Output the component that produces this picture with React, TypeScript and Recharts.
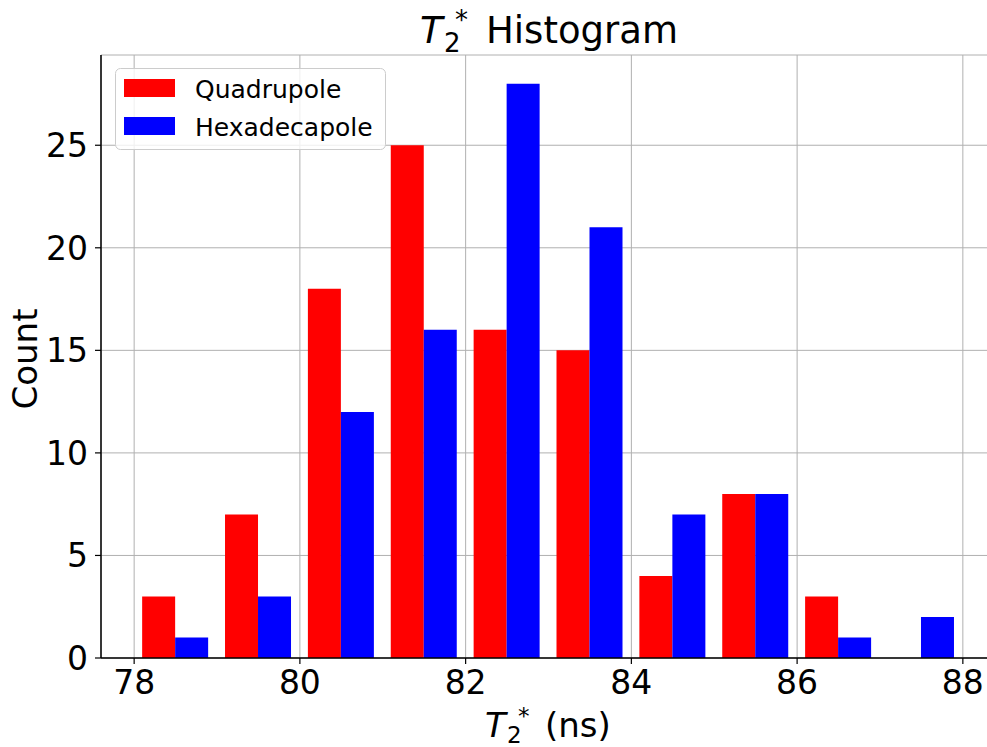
import { Bar, BarChart, CartesianGrid, Legend, XAxis, YAxis } from "recharts";

// histogram bins of width 1 ns from 78 to 88, bars drawn at bin centres
const binCenters = [78.5, 79.5, 80.5, 81.5, 82.5, 83.5, 84.5, 85.5, 86.5, 87.5];
const quadrupole = [3, 7, 18, 25, 16, 15, 4, 8, 3, 0];
const hexadecapole = [1, 3, 12, 16, 28, 21, 7, 8, 1, 2];
const seriesNames = ["Quadrupole", "Hexadecapole"];
const seriesColors = ["#ff0000", "#0000ff"];
const xTicks = [78, 80, 82, 84, 86, 88];
const yTicks = [0, 5, 10, 15, 20, 25];

const data = binCenters.map((x, i) => ({
  x,
  quadrupole: quadrupole[i],
  hexadecapole: hexadecapole[i],
}));

const FONT = "DejaVu Sans";
const tickStyle = { fontSize: 33, fill: "#000", fontFamily: FONT };

const LegendBox = () => (
  <svg width={272} height={83} style={{ display: "block" }}>
    <rect
      x={0.5}
      y={0.5}
      width={270}
      height={81}
      rx={5}
      fill="#fff"
      fillOpacity={0.8}
      stroke="#cccccc"
    />
    {seriesNames.map((name, i) => (
      <g key={name}>
        <rect x={9} y={11 + i * 38} width={51} height={18} fill={seriesColors[i]} />
        <text x={80} y={30 + i * 38} fontSize={25} fontFamily={FONT} fill="#000">
          {name}
        </text>
      </g>
    ))}
  </svg>
);

const App = () => {
  return (
    <div
      style={{
        position: "absolute",
        left: 0,
        top: 0,
        width: 987,
        height: 747,
        overflow: "hidden",
        background: "#fff",
      }}
    >
      <BarChart
        width={1000}
        height={747}
        data={data}
        barSize={33}
        barGap={0}
        margin={{ top: 55, right: 4, bottom: 0, left: 0 }}
      >
        <CartesianGrid stroke="#b0b0b0" strokeWidth={1} />
        <XAxis
          dataKey="x"
          type="number"
          domain={[77.6, 88.4]}
          ticks={xTicks}
          allowDataOverflow
          interval={0}
          height={89}
          tickSize={6}
          tickMargin={7}
          tick={tickStyle}
          axisLine={{ stroke: "#000", strokeWidth: 1.5 }}
          tickLine={{ stroke: "#000", strokeWidth: 1.2 }}
        />
        <XAxis
          xAxisId="top"
          orientation="top"
          type="number"
          domain={[77.6, 88.4]}
          allowDataOverflow
          height={0}
          tick={false}
          tickLine={false}
          axisLine={{ stroke: "#000", strokeWidth: 1.5 }}
        />
        <YAxis
          type="number"
          domain={[0, 29.4]}
          ticks={yTicks}
          allowDataOverflow
          interval={0}
          width={101}
          tickSize={6}
          tickMargin={7}
          tick={tickStyle}
          axisLine={{ stroke: "#000", strokeWidth: 1.5 }}
          tickLine={{ stroke: "#000", strokeWidth: 1.2 }}
        />
        <Legend
          layout="vertical"
          align="center"
          verticalAlign="middle"
          wrapperStyle={{ left: 115, top: 68, width: 272, height: 83 }}
          content={() => <LegendBox />}
        />
        <Bar dataKey="quadrupole" fill={seriesColors[0]} isAnimationActive={false} />
        <Bar dataKey="hexadecapole" fill={seriesColors[1]} isAnimationActive={false} />
      </BarChart>

      <svg
        width={987}
        height={747}
        style={{ position: "absolute", left: 0, top: 0, pointerEvents: "none" }}
      >
        <g fontFamily={FONT} fill="#000">
          <text x={420} y={43} fontSize={37} fontStyle="italic">T</text>
          <text x={444} y={52} fontSize={26}>2</text>
          <text x={455} y={29} fontSize={26}>*</text>
          <text x={486} y={43} fontSize={37}>Histogram</text>

          <text x={485} y={737} fontSize={34} fontStyle="italic">T</text>
          <text x={507} y={743} fontSize={23}>2</text>
          <text x={518} y={724} fontSize={23}>*</text>
          <text x={545} y={737} fontSize={34}>(ns)</text>

          <text
            x={37}
            y={359}
            fontSize={34}
            textAnchor="middle"
            transform="rotate(-90, 37, 359)"
          >
            Count
          </text>
        </g>
      </svg>
    </div>
  );
};

export default App;
